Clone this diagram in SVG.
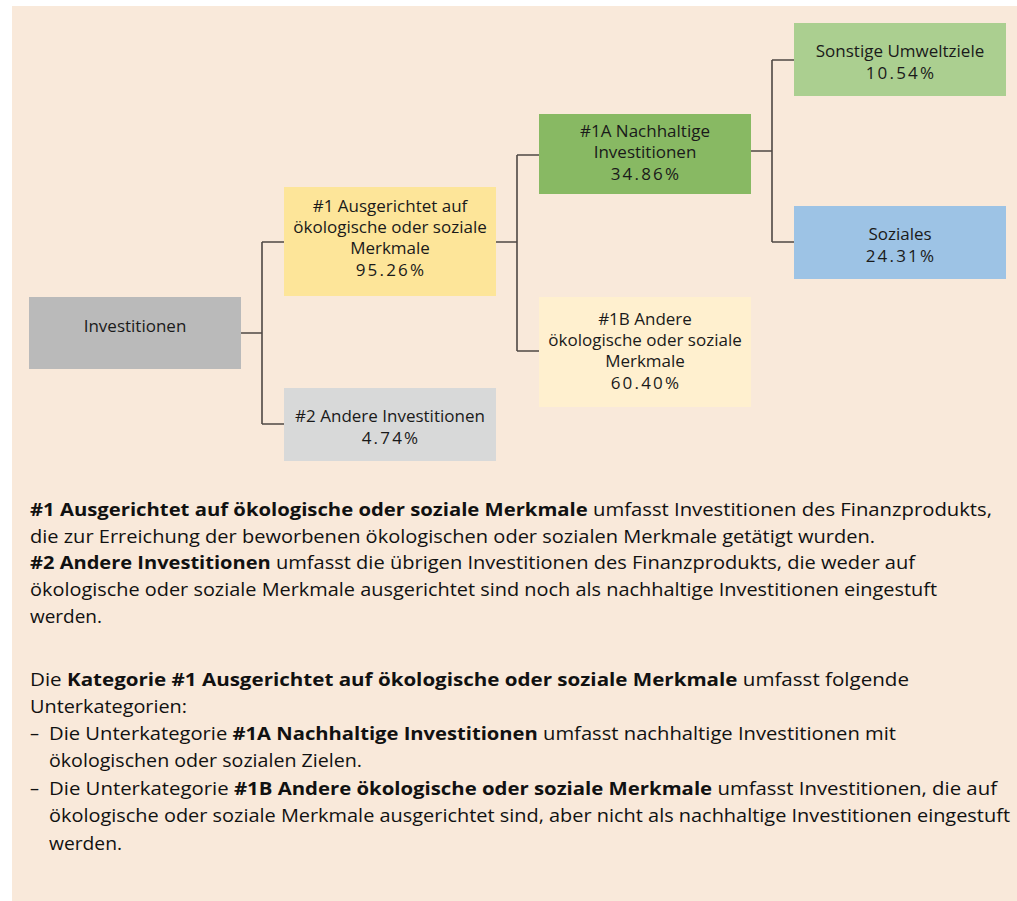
<svg xmlns="http://www.w3.org/2000/svg" width="1017" height="901" viewBox="0 0 1017 901">
<style>
.bg{fill:#f9e9da}
.n{font-family:"Open Sans","Noto Sans",sans-serif;font-size:17px;fill:#1a1a1a;text-anchor:middle}
.p{letter-spacing:2.2px}
.b{font-family:"Open Sans","Noto Sans",sans-serif;font-size:18px;fill:#111}
.bold{font-weight:700}
.c{fill:none;stroke:#4f4844;stroke-width:1.6}
</style>
<rect class="bg" x="12" y="6" width="1005" height="895"/>
<g id="connectors">
<path class="c" d="M241,333H262M262,242V424M262,242H284M262,424H284"/>
<path class="c" d="M496,242H517M517,155V351M517,155H539M517,351H539"/>
<path class="c" d="M751,151H772M772,60V242M772,60H794M772,242H794"/>
</g>
<g id="investitionen">
<rect x="29" y="297" width="212" height="72" fill="#bababa"/>
<text class="n" x="135" y="332">Investitionen</text>
</g>
<g id="n1">
<rect x="284" y="187" width="212" height="109" fill="#fde599"/>
<text class="n" x="390" y="212">#1 Ausgerichtet auf</text>
<text class="n" x="390" y="233">ökologische oder soziale</text>
<text class="n" x="390" y="254">Merkmale</text>
<text class="n p" x="391" y="276">95.26%</text>
</g>
<g id="n2">
<rect x="284" y="388" width="212" height="73" fill="#d8d9d9"/>
<text class="n" x="390" y="422">#2 Andere Investitionen</text>
<text class="n p" x="391" y="444">4.74%</text>
</g>
<g id="n1a">
<rect x="539" y="114" width="212" height="80" fill="#88b963"/>
<text class="n" x="645" y="137">#1A Nachhaltige</text>
<text class="n" x="645" y="158">Investitionen</text>
<text class="n p" x="646" y="180">34.86%</text>
</g>
<g id="n1b">
<rect x="539" y="297" width="212" height="110" fill="#fff0cf"/>
<text class="n" x="645" y="325">#1B Andere</text>
<text class="n" x="645" y="346">ökologische oder soziale</text>
<text class="n" x="645" y="367">Merkmale</text>
<text class="n p" x="646" y="389">60.40%</text>
</g>
<g id="sonstige">
<rect x="794" y="23" width="212" height="73" fill="#abcf90"/>
<text class="n" x="900" y="57">Sonstige Umweltziele</text>
<text class="n p" x="901" y="79">10.54%</text>
</g>
<g id="soziales">
<rect x="794" y="206" width="212" height="73" fill="#9dc3e5"/>
<text class="n" x="900" y="240">Soziales</text>
<text class="n p" x="901" y="262">24.31%</text>
</g>
<g id="legend">
<text class="b" x="30" y="516" textLength="962" lengthAdjust="spacingAndGlyphs"><tspan class="bold">#1 Ausgerichtet auf ökologische oder soziale Merkmale</tspan> umfasst Investitionen des Finanzprodukts,</text>
<text class="b" x="30" y="543" textLength="845" lengthAdjust="spacingAndGlyphs">die zur Erreichung der beworbenen ökologischen oder sozialen Merkmale getätigt wurden.</text>
<text class="b" x="30" y="569" textLength="885" lengthAdjust="spacingAndGlyphs"><tspan class="bold">#2 Andere Investitionen</tspan> umfasst die übrigen Investitionen des Finanzprodukts, die weder auf</text>
<text class="b" x="30" y="596" textLength="907" lengthAdjust="spacingAndGlyphs">ökologische oder soziale Merkmale ausgerichtet sind noch als nachhaltige Investitionen eingestuft</text>
<text class="b" x="30" y="623" textLength="72" lengthAdjust="spacingAndGlyphs">werden.</text>
<text class="b" x="30" y="686" textLength="879" lengthAdjust="spacingAndGlyphs">Die <tspan class="bold">Kategorie #1 Ausgerichtet auf ökologische oder soziale Merkmale</tspan> umfasst folgende</text>
<text class="b" x="30" y="713" textLength="157" lengthAdjust="spacingAndGlyphs">Unterkategorien:</text>
<text class="b" x="30" y="740">–</text>
<text class="b" x="49" y="740" textLength="847" lengthAdjust="spacingAndGlyphs">Die Unterkategorie <tspan class="bold">#1A Nachhaltige Investitionen</tspan> umfasst nachhaltige Investitionen mit</text>
<text class="b" x="49" y="767" textLength="313" lengthAdjust="spacingAndGlyphs">ökologischen oder sozialen Zielen.</text>
<text class="b" x="30" y="795">–</text>
<text class="b" x="49" y="795" textLength="948" lengthAdjust="spacingAndGlyphs">Die Unterkategorie <tspan class="bold">#1B Andere ökologische oder soziale Merkmale</tspan> umfasst Investitionen, die auf</text>
<text class="b" x="49" y="822" textLength="961" lengthAdjust="spacingAndGlyphs">ökologische oder soziale Merkmale ausgerichtet sind, aber nicht als nachhaltige Investitionen eingestuft</text>
<text class="b" x="49" y="850" textLength="73" lengthAdjust="spacingAndGlyphs">werden.</text>
</g>
</svg>
